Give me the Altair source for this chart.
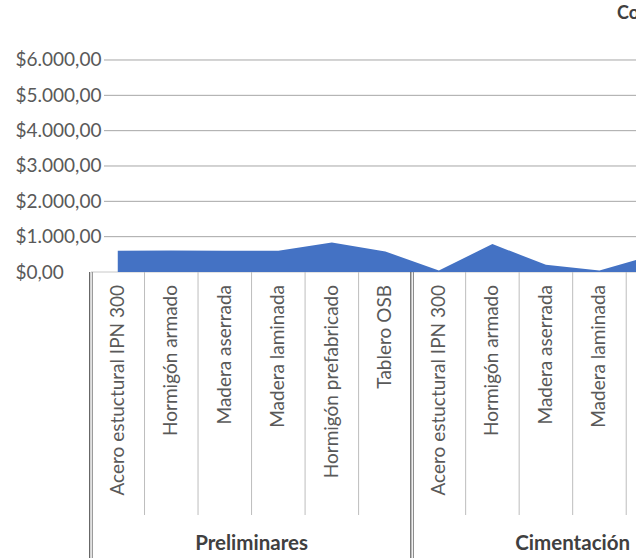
import altair as alt
import pandas as pd

# ---- data ----
groups = ["Preliminares"] * 6 + ["Cimentación"] * 6
materials = [
    "Acero estuctural IPN 300", "Hormigón armado", "Madera aserrada",
    "Madera laminada", "Hormigón prefabricado", "Tablero OSB",
] * 2
costs = [600, 605, 600, 600, 835, 580, 45, 790, 205, 45, 480, None]
y_ticks = [0, 1000, 2000, 3000, 4000, 5000, 6000]
title_text = "Costos por material y etapa"

df = pd.DataFrame({"grupo": groups, "material": materials, "costo": costs})
df["pos"] = range(len(df))

kinds = []
for i in range(len(groups)):
    last = i + 1 == len(groups) or groups[i + 1] != groups[i]
    kinds.append("grupo" if last else "item")
bounds = pd.concat([
    pd.DataFrame({"pos": [-0.5], "tipo": ["grupo"]}),
    pd.DataFrame({"pos": df["pos"] + 0.5, "tipo": kinds}),
], ignore_index=True)

FONT = "Lato"
TXT = "#595959"

x_scale = alt.Scale(domain=[-0.5, 9.683], nice=False, zero=False)
y_scale = alt.Scale(domain=[0, 6566], nice=False, zero=True)
y_axis = alt.Axis(
    values=y_ticks, format="$,.2f", orient="left", ticks=False,
    tickSize=0, domain=False, grid=False, labelAlign="left",
    labelPadding=76, labelFont=FONT, labelFontSize=19,
    labelColor=TXT, title=None,
)

grid = alt.Chart(pd.DataFrame({"costo": y_ticks[1:]})).mark_rule(
    color="#a6a6a6", strokeWidth=1
).encode(
    y=alt.Y("costo:Q", scale=y_scale, axis=y_axis),
    x=alt.value(13), x2=alt.value(545),
)

base0 = alt.Chart(pd.DataFrame({"costo": [0]})).mark_rule(
    color="#c8c8c8", strokeWidth=1
).encode(
    y=alt.Y("costo:Q", scale=y_scale, axis=y_axis),
    x=alt.value(0), x2=alt.value(545),
)

area = alt.Chart(df).mark_area(color="#4472C4", clip=True).encode(
    x=alt.X("pos:Q", scale=x_scale, axis=None),
    y=alt.Y("costo:Q", scale=y_scale, axis=y_axis),
)

thin = alt.Chart(bounds).transform_filter(
    alt.datum.tipo == "item"
).mark_rule(color="#bdbdbd", strokeWidth=1).encode(
    x=alt.X("pos:Q", scale=x_scale, axis=None),
    y=alt.value(232), y2=alt.value(475),
)

dbl_a = alt.Chart(bounds).transform_filter(
    alt.datum.tipo == "grupo"
).mark_rule(color="#4d4d4d", strokeWidth=1.1, xOffset=-1.3).encode(
    x=alt.X("pos:Q", scale=x_scale, axis=None),
    y=alt.value(232), y2=alt.value(518),
)
dbl_b = alt.Chart(bounds).transform_filter(
    alt.datum.tipo == "grupo"
).mark_rule(color="#8a8a8a", strokeWidth=1.1, xOffset=1.3).encode(
    x=alt.X("pos:Q", scale=x_scale, axis=None),
    y=alt.value(232), y2=alt.value(518),
)

cat_labels = alt.Chart(df).mark_text(
    angle=270, align="right", baseline="middle", font=FONT,
    fontSize=19, color=TXT,
).encode(
    x=alt.X("pos:Q", scale=x_scale, axis=None),
    y=alt.value(245),
    text="material:N",
)

group_labels = alt.Chart(df).transform_aggregate(
    centro="mean(pos)", groupby=["grupo"]
).mark_text(
    align="center", baseline="alphabetic", font=FONT, fontSize=20.5,
    fontWeight="bold", color="#404040",
).encode(
    x=alt.X("centro:Q", scale=x_scale, axis=None),
    y=alt.value(510),
    text="grupo:N",
)

title = alt.Chart(pd.DataFrame({"t": [title_text]})).mark_text(
    align="left", baseline="alphabetic", font=FONT, fontSize=18,
    fontWeight="bold", color="#404040",
).encode(
    x=alt.value(526), y=alt.value(-21), text="t:N",
)

chart = alt.layer(
    grid, base0, area, thin, dbl_a, dbl_b, cat_labels, group_labels, title
).properties(
    width=545, height=232,
    padding={"left": 91, "top": 40, "right": 0, "bottom": 288},
    autosize=alt.AutoSizeParams(type="none"),
    background="white",
).configure(
    locale={"number": {"decimal": ",", "thousands": ".", "grouping": [3],
                       "currency": ["$", ""]}},
    view=alt.ViewConfig(stroke=None),
)

chart.save("out.html", embed_options={"renderer": "svg", "actions": False})
